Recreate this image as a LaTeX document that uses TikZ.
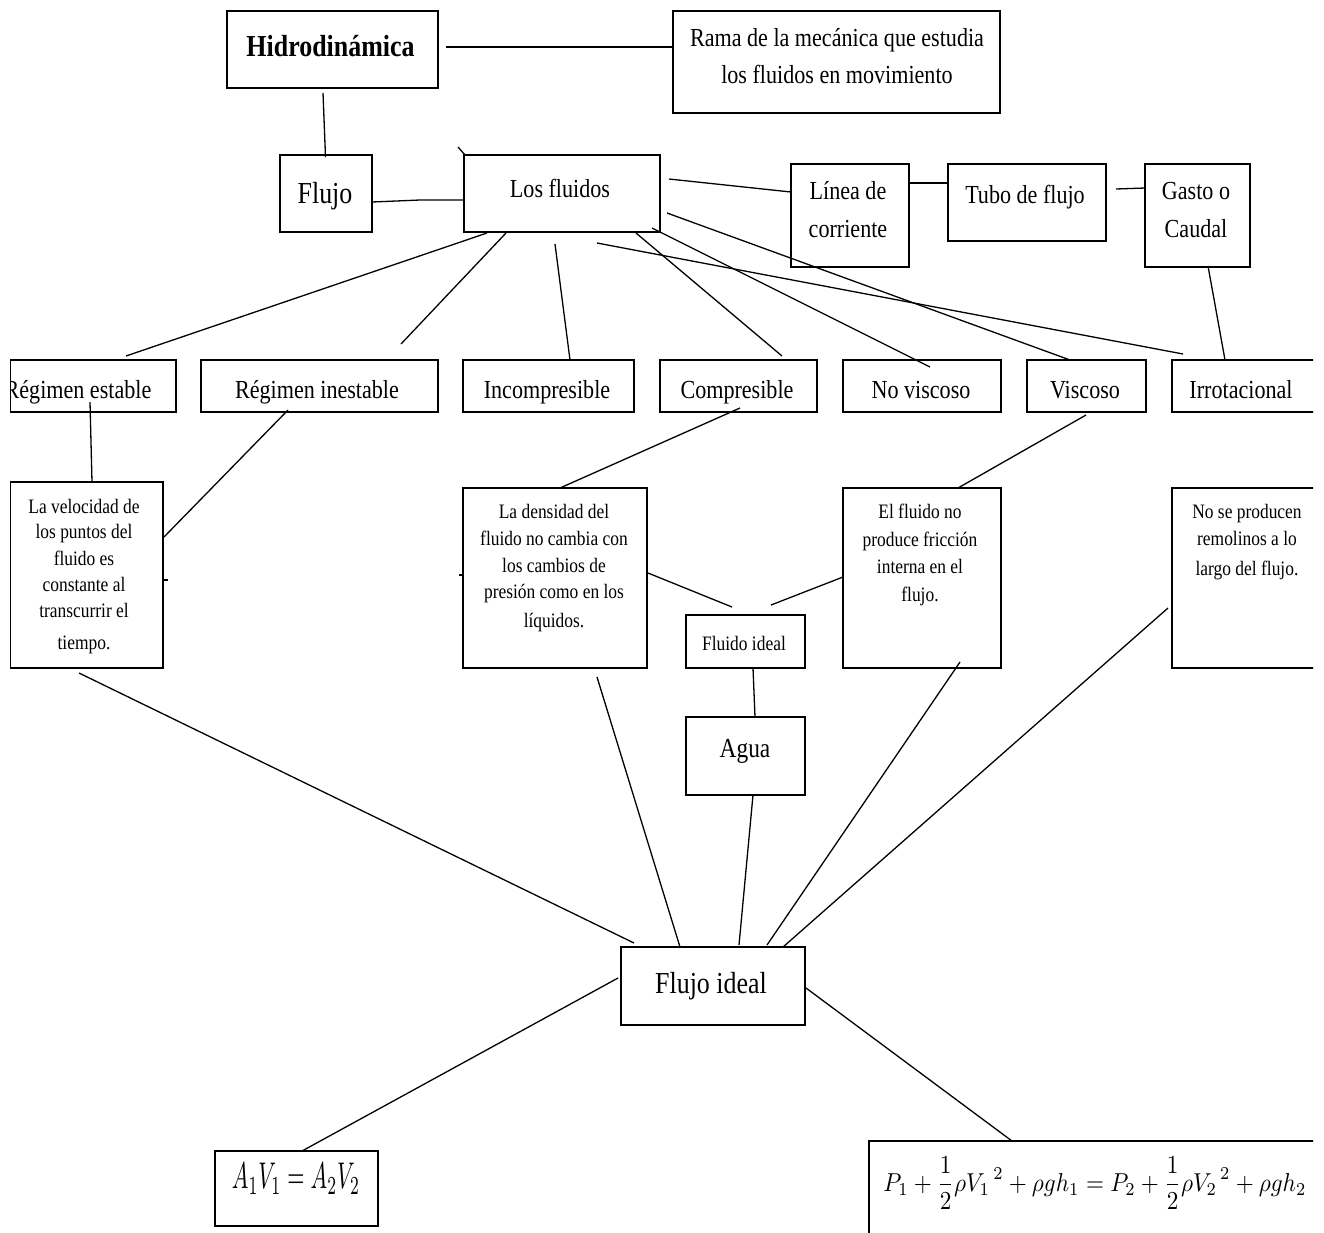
\documentclass[tikz,border=0pt]{standalone}
\usepackage{fontspec}
\usepackage{graphicx}
\setmainfont{Liberation Serif}
\newfontfamily\tnr[FakeStretch=0.85]{Liberation Serif}
\newcommand\fA{\tnr\fontsize{26}{29}\selectfont}
\newcommand\fS{\tnr\fontsize{20.5}{24}\selectfont}
\newcommand\fL{\tnr\fontsize{30.5}{33}\selectfont}
\newcommand\fM{\tnr\fontsize{27.5}{31}\selectfont}
\newcommand\fH{\tnr\bfseries\fontsize{30.5}{33}\selectfont}
\begin{document}
\begin{tikzpicture}[x=1pt,y=-1pt,
  box/.style={draw,rectangle,line width=1.8pt,inner sep=0pt},
  lnk/.style={line width=1.3pt},
  tx/.style={inner sep=0pt,anchor=base,font=\fA},
  txs/.style={inner sep=0pt,anchor=base,font=\fS}]
\useasboundingbox (0,0) rectangle (1324,1232);
\fill[white] (0,0) rectangle (1324,1232);
\begin{scope}
\clip (0,0) rectangle (1313,1232);
% ---------- boxes ----------
\node[box,minimum width=211pt,minimum height=77pt] (hidro) at (332.5,49.5) {};
\node[box,minimum width=327pt,minimum height=102pt] (rama) at (836.5,62) {};
\node[box,minimum width=92pt,minimum height=77pt] (flujo) at (326,193.5) {};
\node[box,minimum width=196pt,minimum height=77pt] (fluidos) at (562,193.5) {};
\node[box,minimum width=118pt,minimum height=103pt] (linea) at (850,215.5) {};
\node[box,minimum width=158pt,minimum height=77pt] (tubo) at (1027,202.5) {};
\node[box,minimum width=105pt,minimum height=103pt] (gasto) at (1197.5,215.5) {};
\node[box,minimum width=165.5pt,minimum height=52pt] (restable) at (93.25,386) {};
\node[box,minimum width=237pt,minimum height=52pt] (rinest) at (319.5,386) {};
\node[box,minimum width=171pt,minimum height=52pt] (incomp) at (548.5,386) {};
\node[box,minimum width=157pt,minimum height=52pt] (comp) at (738.5,386) {};
\node[box,minimum width=158pt,minimum height=52pt] (novisc) at (922,386) {};
\node[box,minimum width=119pt,minimum height=52pt] (visc) at (1086.5,386) {};
\node[box,minimum width=158pt,minimum height=52pt] (irrot) at (1251,386) {};
\node[box,minimum width=152.5pt,minimum height=186pt] (veloc) at (86.75,575) {};
\node[box,minimum width=184pt,minimum height=180pt] (densi) at (555,578) {};
\node[box,minimum width=119pt,minimum height=53pt] (fideal) at (745.5,641.5) {};
\node[box,minimum width=158pt,minimum height=180pt] (elfl) at (922,578) {};
\node[box,minimum width=158pt,minimum height=180pt] (noprod) at (1251,578) {};
\node[box,minimum width=119pt,minimum height=78pt] (agua) at (745.5,756) {};
\node[box,minimum width=184pt,minimum height=78pt] (fjideal) at (713,986) {};
\node[box,minimum width=163pt,minimum height=75pt] (avbox) at (296.5,1188.5) {};
\node[box,minimum width=461pt,minimum height=109pt] (bern) at (1099.5,1195.5) {};
% ---------- texts ----------
\node[tx,font=\fH] (thidro) at (330.5,56) {Hidrodinámica};
\node[tx] (trama1) at (837,46) {Rama de la mecánica que estudia};
\node[tx] (trama2) at (837,83) {los fluidos en movimiento};
\node[tx,font=\fL] (tflujo) at (325,203) {Flujo};
\node[tx] (tfluidos) at (560,197) {Los fluidos};
\node[tx] (tlinea1) at (848,199) {Línea de};
\node[tx] (tlinea2) at (848,237) {corriente};
\node[tx] (ttubo) at (1025,203) {Tubo de flujo};
\node[tx] (tgasto1) at (1196,199) {Gasto o};
\node[tx] (tgasto2) at (1196,237) {Caudal};
\begin{scope}
\clip (11,350) rectangle (180,420);
\node[tx] (trest) at (78,398) {Régimen estable};
\end{scope}
\node[tx] (trin) at (317,398) {Régimen inestable};
\node[tx] (tinc) at (547,398) {Incompresible};
\node[tx] (tcomp) at (737,398) {Compresible};
\node[tx] (tnov) at (921,398) {No viscoso};
\node[tx] (tvis) at (1085,398) {Viscoso};
\node[tx] (tirr) at (1241,398) {Irrotacional};
\node[txs] (tv1) at (84,513) {La velocidad de};
\node[txs] (tv2) at (84,538) {los puntos del};
\node[txs] (tv3) at (84,565) {fluido es};
\node[txs] (tv4) at (84,591) {constante al};
\node[txs] (tv5) at (84,617) {transcurrir el};
\node[txs] (tv6) at (84,649) {tiempo.};
\node[txs] (td1) at (554,518) {La densidad del};
\node[txs] (td2) at (554,545) {fluido no cambia con};
\node[txs] (td3) at (554,572) {los cambios de};
\node[txs] (td4) at (554,598) {presión como en los};
\node[txs] (td5) at (554,627) {líquidos.};
\node[txs] (te1) at (920,518) {El fluido no};
\node[txs] (te2) at (920,546) {produce fricción};
\node[txs] (te3) at (920,573) {interna en el};
\node[txs] (te4) at (920,601) {flujo.};
\node[txs] (tn1) at (1247,518) {No se producen};
\node[txs] (tn2) at (1247,545) {remolinos a lo};
\node[txs] (tn3) at (1247,575) {largo del flujo.};
\node[txs] (tfid) at (744,650) {Fluido ideal};
\node[tx,font=\fM] (tagua) at (745,757) {Agua};
\node[tx,font=\fL] (tfji) at (711,993) {Flujo ideal};
\node[inner sep=0pt] (tav) at (296,1179) {\resizebox*{128pt}{31pt}{$A_1V_1 = A_2V_2$}};
\node[inner sep=0pt] (tbern) at (1095,1183) {\resizebox*{423pt}{52pt}{$P_1 + {\displaystyle\frac{1}{2}}\rho {V_1}^{\,2} + \rho g h_1 = P_2 + {\displaystyle\frac{1}{2}}\rho {V_2}^{\,2} + \rho g h_2$}};
\end{scope}
% ---------- connector end points ----------
\path (446,47) coordinate (a1) (673,47) coordinate (b1)
      (323,93) coordinate (a2) (325.5,157) coordinate (b2)
      (372,202) coordinate (a3) (420,200) coordinate (m3) (464,200) coordinate (b3)
      (458,147) coordinate (a4) (465,155) coordinate (b4)
      (669,179) coordinate (a5) (791,192) coordinate (b5)
      (909,183) coordinate (a6) (948,183) coordinate (b6)
      (1116,189) coordinate (a7) (1145,188) coordinate (b7)
      (1208,266) coordinate (a8) (1225,360) coordinate (b8)
      (487,233) coordinate (a9) (126,356) coordinate (b9)
      (506,233) coordinate (a10) (401,344) coordinate (b10)
      (555,244) coordinate (a11) (570,360) coordinate (b11)
      (636,233) coordinate (a12) (782,356) coordinate (b12)
      (652,228) coordinate (a13) (930,367) coordinate (b13)
      (667,213) coordinate (a14) (1070,360) coordinate (b14)
      (597,243) coordinate (a15) (1183,354) coordinate (b15)
      (90,402) coordinate (a16) (92,482) coordinate (b16)
      (288,410) coordinate (a17) (164,537) coordinate (b17)
      (163,580) coordinate (a18) (168,580) coordinate (b18)
      (459,575) coordinate (a19) (463,575) coordinate (b19)
      (740,408) coordinate (a20) (560,488) coordinate (b20)
      (1086,415) coordinate (a21) (958,488) coordinate (b21)
      (648,573) coordinate (a22) (732,607) coordinate (b22)
      (843,577) coordinate (a23) (771,605) coordinate (b23)
      (753,668) coordinate (a24) (755,717) coordinate (b24)
      (753,795) coordinate (a25) (739,945) coordinate (b25)
      (597,677) coordinate (a26) (680,947) coordinate (b26)
      (960,662) coordinate (a27) (767,945) coordinate (b27)
      (1168,608) coordinate (a28) (783,947) coordinate (b28)
      (79,673) coordinate (a29) (634,943) coordinate (b29)
      (618,978) coordinate (a30) (302,1151) coordinate (b30)
      (806,988) coordinate (a31) (1012,1141) coordinate (b31);
% ---------- connectors ----------
\draw[lnk] (a1) -- (b1);
\draw[lnk] (a2) -- (b2);
\draw[lnk] (a3) -- (m3) -- (b3);
\draw[lnk] (a4) -- (b4);
\draw[lnk] (a5) -- (b5);
\draw[lnk] (a6) -- (b6);
\draw[lnk] (a7) -- (b7);
\draw[lnk] (a8) -- (b8);
\draw[lnk] (a9) -- (b9);
\draw[lnk] (a10) -- (b10);
\draw[lnk] (a11) -- (b11);
\draw[lnk] (a12) -- (b12);
\draw[lnk] (a13) -- (b13);
\draw[lnk] (a14) -- (b14);
\draw[lnk] (a15) -- (b15);
\draw[lnk] (a16) -- (b16);
\draw[lnk] (a17) -- (b17);
\draw[lnk] (a18) -- (b18);
\draw[lnk] (a19) -- (b19);
\draw[lnk] (a20) -- (b20);
\draw[lnk] (a21) -- (b21);
\draw[lnk] (a22) -- (b22);
\draw[lnk] (a23) -- (b23);
\draw[lnk] (a24) -- (b24);
\draw[lnk] (a25) -- (b25);
\draw[lnk] (a26) -- (b26);
\draw[lnk] (a27) -- (b27);
\draw[lnk] (a28) -- (b28);
\draw[lnk] (a29) -- (b29);
\draw[lnk] (a30) -- (b30);
\draw[lnk] (a31) -- (b31);
\end{tikzpicture}
\end{document}
